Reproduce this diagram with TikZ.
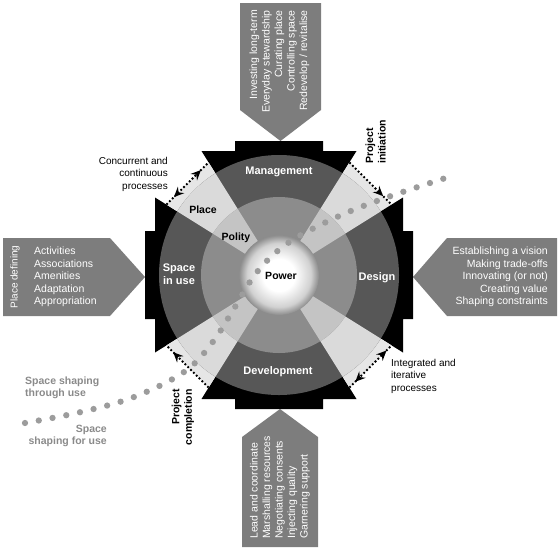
\documentclass[tikz,border=0pt]{standalone}
\usepackage{fontspec}
\setmainfont{Liberation Sans}
\usepackage{tikz}
\usetikzlibrary{arrows.meta, decorations.markings}

\definecolor{ringdark}{HTML}{575757}
\definecolor{ringmid}{HTML}{8C8C8C}
\definecolor{bandout}{HTML}{E6E6E6}
\definecolor{bandring}{HTML}{DADADA}
\definecolor{bandmid}{HTML}{C4C4C4}
\definecolor{boxgray}{HTML}{7D7D7D}
\definecolor{dotgray}{HTML}{9C9C9C}
\definecolor{labelgray}{HTML}{8A8A8A}

\pgfdeclareradialshading{powerball}{\pgfpoint{0bp}{0bp}}{color(0bp)=(white); color(10bp)=(white); color(20bp)=(black!18); color(25bp)=(black!45); color(50bp)=(black!55)}

\begin{document}
\begin{tikzpicture}[x=1pt, y=-1pt,
    font=\fontsize{10.5}{12.5}\selectfont,
    sidetext/.style={text=white, inner sep=0pt},
    ringtext/.style={text=white, font=\fontsize{11}{13}\selectfont\bfseries, align=center, inner sep=0pt},
    zonetext/.style={font=\fontsize{10.5}{12.5}\selectfont\bfseries, inner sep=0pt},
    cycletext/.style={font=\fontsize{10}{12.5}\selectfont, inner sep=0pt},
    phasetext/.style={font=\fontsize{10.5}{12.5}\selectfont\bfseries, inner sep=0pt, rotate=90},
    shapetext/.style={text=labelgray, font=\fontsize{10.5}{12.5}\selectfont\bfseries, inner sep=0pt},
    shapeline/.style={dotgray, line width=6.3pt, line cap=round, dash pattern=on 0pt off 14pt},
    dotline/.style={black, line width=1.8pt, dash pattern=on 1.8pt off 2.2pt},
    headat/.style={postaction={decorate, decoration={markings,
        mark=at position #1 with {\arrow{Stealth[length=10pt, width=9pt, inset=3.5pt]}}}}},
    headback/.style={postaction={decorate, decoration={markings,
        mark=at position #1 with {\arrowreversed{Stealth[length=10pt, width=9pt, inset=3.5pt]}}}}}]
\useasboundingbox (0,0) rectangle (559,550);

% side arrows
\fill[boxgray] (240,3) -- (321,3) -- (321,110) -- (280.5,141) -- (240,110) -- cycle;
\fill[boxgray] (3,238) -- (110,238) -- (145,277) -- (110,316) -- (3,316) -- cycle;
\fill[boxgray] (557,238) -- (447,238) -- (413,277) -- (447,316) -- (557,316) -- cycle;
\fill[boxgray] (242,547) -- (318,547) -- (318,437) -- (280,409) -- (242,437) -- cycle;

\node[sidetext, rotate=90, anchor=east, align=right] (mgmtlist) at (279.5,10)
    {Investing long-term\\Everyday stewardship\\Curating place\\Controlling space\\Redevelop / revitalise};
\node[sidetext, rotate=90, font=\fontsize{10}{12}\selectfont] (placedef) at (15,277) {Place defining};
\node[sidetext, anchor=west, align=left] (uselist) at (34,277)
    {Activities\\Associations\\Amenities\\Adaptation\\Appropriation};
\node[sidetext, anchor=east, align=right] (designlist) at (548,277)
    {Establishing a vision\\Making trade-offs\\Innovating (or not)\\Creating value\\Shaping constraints};
\node[sidetext, rotate=90, anchor=west, align=left] (devlist) at (280,539)
    {Lead and coordinate\\Marshalling resources\\Negotiating consents\\Injecting quality\\Garnering support};

\begin{scope}[shift={(279,275)}]
  % stepped frame and light bands
  \foreach \r in {0,90,180,270}
  {
    \fill[black, rotate=\r] (0,0) -- (-70.4,-112.6) -- (-77.5,-124) -- (-44,-124) -- (-44,-134)
      -- (44,-134) -- (44,-124) -- (77.5,-124) -- (70.4,-112.6) -- cycle;
    \fill[bandout, rotate=\r] (0,0) -- (70.4,-112.6) -- (112.6,-70.4) -- cycle;
  }
  % rings
  \fill[ringdark] (0,0) circle (120);
  \begin{scope}
    \clip (0,0) -- (70.4,-112.6) -- (112.6,-70.4) -- cycle
          (0,0) -- (-70.4,-112.6) -- (-112.6,-70.4) -- cycle
          (0,0) -- (70.4,112.6) -- (112.6,70.4) -- cycle
          (0,0) -- (-70.4,112.6) -- (-112.6,70.4) -- cycle;
    \fill[bandring] (0,0) circle (120);
  \end{scope}
  \fill[ringmid] (0,0) circle (78);
  \begin{scope}
    \clip (0,0) -- (70.4,-112.6) -- (112.6,-70.4) -- cycle
          (0,0) -- (-70.4,-112.6) -- (-112.6,-70.4) -- cycle
          (0,0) -- (70.4,112.6) -- (112.6,70.4) -- cycle
          (0,0) -- (-70.4,112.6) -- (-112.6,70.4) -- cycle;
    \fill[bandmid] (0,0) circle (78);
  \end{scope}
  \shade[shading=powerball] (0,0) circle (40);

  % corner ends of the bands
  \coordinate (nwa) at (-112.6,-70.4);
  \coordinate (nwb) at (-70.4,-112.6);
  \coordinate (nea) at (70.4,-112.6);
  \coordinate (neb) at (112.6,-70.4);
  \coordinate (sea) at (70.4,112.6);
  \coordinate (seb) at (112.6,70.4);
  \coordinate (swa) at (-70.4,112.6);
  \coordinate (swb) at (-112.6,70.4);
\end{scope}

% ring labels
\node[ringtext] (mgmt) at (279,172) {Management};
\node[ringtext] (dev) at (278,372) {Development};
\node[ringtext] (use) at (179,274) {Space\\in use};
\node[ringtext] (design) at (377,278) {Design};
\node[zonetext] (place) at (203,210) {Place};
\node[zonetext] (polity) at (236,238) {Polity};
\node[zonetext] (power) at (281,276) {Power};

% space shaping line
\draw[shapeline] plot[smooth, tension=0.6] coordinates {(25,423) (81,412) (134,397) (184,372)
    (212,343) (235,307) (257,272) (288,243) (337,217) (388,197) (455,175)};

% process arrows
\draw[dotline, headat=0.82, headback=0.18] (nwa) -- (nwb);
\draw[dotline, headat=0.8] (nea) -- (neb);
\draw[dotline, headat=0.88, headback=0.14] (sea) -- (seb);
\draw[dotline, headat=0.84] (swa) -- (swb);

\node[cycletext, anchor=east, align=right] (concurrent) at (168,174) {Concurrent and\\continuous\\processes};
\node[phasetext, anchor=west, align=left] (initiation) at (375.5,164) {Project\\initiation};
\node[cycletext, anchor=west, align=left] (integrated) at (391,376) {Integrated and\\iterative\\processes};
\node[phasetext, anchor=east, align=right] (completion) at (183,389) {Project\\completion};

\node[shapetext, anchor=west, align=left] (throughuse) at (25,388) {Space shaping\\through use};
\node[shapetext, anchor=east, align=right] (foruse) at (107,436) {Space\\shaping for use};
\end{tikzpicture}
\end{document}
